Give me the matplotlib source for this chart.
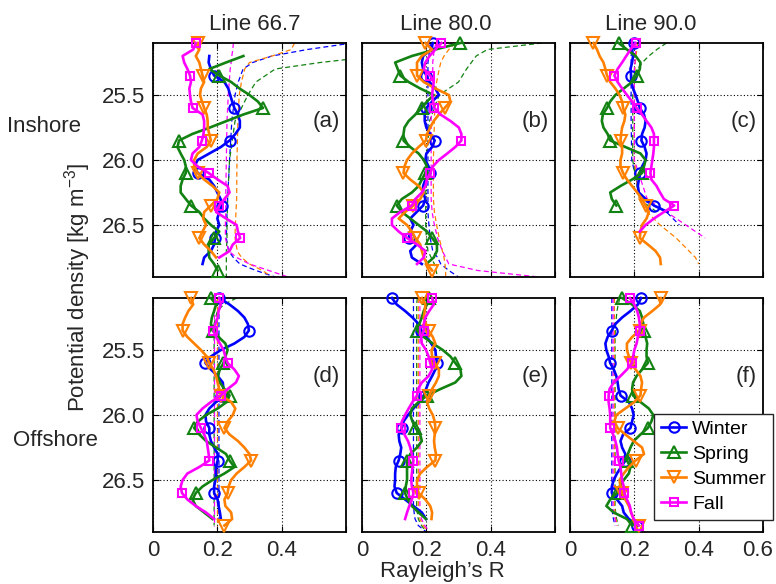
import numpy as np
import matplotlib
matplotlib.use("Agg")
import matplotlib.pyplot as plt
import matplotlib.transforms as mtransforms
from matplotlib.lines import Line2D

plt.rcParams["font.family"] = ["Liberation Sans", "DejaVu Sans"]
plt.rcParams["mathtext.default"] = "regular"

nan = np.nan

# potential density grid of the profiles (markers every 0.25)
density = np.round(np.arange(25.10, 26.86, 0.05), 2)
# density grid of the significance (dashed) curves
density_sig = [25.10, 25.15, 25.20, 25.25, 25.30, 25.40, 25.50, 25.70, 26.00,
               26.30, 26.40, 26.50, 26.60, 26.70, 26.75, 26.80, 26.85, 26.90]

seasons = ["Winter", "Spring", "Summer", "Fall"]
line_titles = ["Line 66.7", "Line 80.0", "Line 90.0"]
panel_tags = ["(a)", "(b)", "(c)", "(d)", "(e)", "(f)"]
region_names = ["Inshore", "Offshore"]

# ---- (a) Line 66.7 inshore
winter_a = [nan, nan, 0.175, 0.173, 0.18, 0.19, 0.222, 0.234, 0.24, 0.246, 0.253, 0.264, 0.27, 0.27, 0.256, 0.238,
            0.211, 0.175, 0.139, 0.128, 0.139, 0.175, 0.19, 0.2, 0.21, 0.214, 0.206, 0.2, 0.206, 0.196, 0.193, 0.19,
            0.18, 0.159, 0.154, nan]
spring_a = [nan, nan, 0.281, 0.227, 0.175, 0.206, 0.243, 0.269, 0.3, 0.326, 0.342, 0.281, 0.229, 0.177, 0.122, 0.081,
            0.076, 0.086, 0.097, 0.102, 0.102, 0.092, 0.086, 0.086, 0.102, 0.118, 0.144, 0.159, 0.18, 0.206, 0.19,
            0.173, 0.173, 0.175, 0.19, 0.201]
summer_a = [0.139, 0.144, 0.133, 0.144, 0.149, 0.154, 0.159, 0.149, 0.146, 0.152, 0.159, 0.167, 0.17, 0.17, 0.175,
            0.18, 0.167, 0.139, 0.128, 0.128, 0.139, 0.159, 0.185, 0.206, 0.2, 0.18, 0.159, 0.156, 0.165, 0.154, 0.144,
            0.159, 0.18, 0.196, nan, nan]
fall_a = [0.133, 0.125, 0.092, 0.097, 0.107, 0.115, 0.118, 0.113, 0.115, 0.118, 0.123, 0.154, 0.159, 0.159, 0.157,
          0.152, 0.144, 0.123, 0.118, 0.139, 0.173, 0.201, 0.232, 0.238, 0.222, 0.206, 0.196, 0.227, 0.26, 0.264, 0.271,
          0.248, 0.238, 0.206, nan, nan]

# ---- (b) Line 80.0 inshore
winter_b = [0.22, 0.216, 0.19, 0.186, 0.19, 0.2, 0.21, 0.228, 0.239, 0.218, 0.2, 0.195, 0.195, 0.2, 0.212, 0.226,
            0.218, 0.2, 0.197, 0.207, 0.212, 0.197, 0.19, 0.19, 0.197, 0.19, 0.17, 0.15, 0.16, 0.15, 0.145, 0.17, 0.15,
            0.155, 0.186, nan]
spring_b = [0.306, 0.228, 0.155, 0.103, 0.111, 0.119, 0.145, 0.181, 0.223, 0.202, 0.186, 0.166, 0.145, 0.132, 0.129,
            0.129, 0.15, 0.176, 0.192, 0.202, 0.197, 0.186, 0.176, 0.155, 0.124, 0.108, 0.124, 0.15, 0.176, 0.202,
            0.218, 0.233, 0.233, 0.223, 0.2, nan]
summer_b = [0.197, 0.218, 0.186, 0.171, 0.171, 0.171, 0.192, 0.228, 0.27, 0.275, 0.257, 0.239, 0.223, 0.212, 0.202,
            0.199, 0.176, 0.155, 0.14, 0.132, 0.129, 0.15, 0.176, 0.192, 0.181, 0.16, 0.134, 0.114, 0.14, 0.155, 0.166,
            0.181, 0.186, 0.192, 0.202, 0.218]
fall_b = [0.247, 0.228, 0.21, 0.197, 0.192, 0.212, 0.223, 0.22, 0.218, 0.221, 0.225, 0.244, 0.275, 0.301, 0.309, 0.309,
          0.29, 0.265, 0.239, 0.22, 0.212, 0.202, 0.197, 0.186, 0.166, 0.155, 0.119, 0.093, 0.093, 0.114, 0.14, 0.171,
          0.197, 0.192, 0.171, nan]

# ---- (c) Line 90.0 inshore
winter_c = [0.2, 0.193, 0.196, 0.193, 0.188, 0.19, 0.19, 0.196, 0.204, 0.211, 0.217, 0.23, 0.235, 0.232, 0.224, 0.222,
            0.232, 0.238, 0.235, 0.224, 0.219, 0.214, 0.211, 0.214, 0.235, 0.261, 0.303, nan, nan, nan, nan, nan, nan,
            nan, nan, nan]
spring_c = [0.151, 0.177, 0.204, 0.219, 0.217, 0.209, 0.193, 0.167, 0.141, 0.125, 0.115, 0.102, 0.099, 0.104, 0.117,
            0.125, 0.172, 0.219, 0.235, 0.23, 0.224, 0.193, 0.157, 0.125, 0.13, 0.144, nan, nan, nan, nan, nan, nan,
            nan, nan, nan, nan]
summer_c = [0.073, 0.084, 0.092, 0.104, 0.11, 0.115, 0.125, 0.141, 0.154, 0.162, 0.165, 0.172, 0.169, 0.162, 0.159,
            0.157, 0.162, 0.162, 0.157, 0.157, 0.165, 0.177, 0.193, 0.209, 0.224, 0.235, 0.245, 0.238, 0.224, 0.219,
            0.217, 0.242, 0.266, 0.28, 0.282, nan]
fall_c = [0.204, 0.188, 0.175, 0.162, 0.148, 0.138, 0.148, 0.162, 0.177, 0.193, 0.207, 0.224, 0.238, 0.253, 0.261,
          0.261, 0.261, 0.259, 0.256, 0.253, 0.25, 0.253, 0.269, 0.28, 0.292, 0.324, 0.292, 0.261, 0.235, 0.217, nan,
          nan, nan, nan, nan, nan]

# ---- (d) Line 66.7 offshore
winter_d = [0.206, 0.238, 0.264, 0.284, 0.295, 0.298, 0.284, 0.253, 0.211, 0.18, 0.163, 0.18, 0.201, 0.217, 0.219,
            0.211, 0.196, 0.175, 0.163, 0.165, 0.175, 0.175, 0.18, 0.19, 0.201, 0.201, 0.196, 0.196, 0.194, 0.19, 0.19,
            0.201, 0.204, 0.208, 0.211, nan]
spring_d = [0.18, 0.196, 0.19, 0.183, 0.18, 0.185, 0.204, 0.225, 0.232, 0.225, 0.219, 0.208, 0.201, 0.208, 0.222,
            0.238, 0.229, 0.201, 0.165, 0.139, 0.128, 0.144, 0.165, 0.196, 0.227, 0.238, 0.253, 0.222, 0.185, 0.154,
            0.133, 0.123, 0.133, 0.159, 0.185, nan]
summer_d = [0.118, 0.125, 0.11, 0.1, 0.092, 0.092, 0.107, 0.128, 0.149, 0.167, 0.175, 0.188, 0.196, 0.201, 0.206,
            0.211, 0.243, 0.256, 0.248, 0.232, 0.222, 0.238, 0.264, 0.284, 0.3, 0.305, 0.284, 0.26, 0.243, 0.235, 0.232,
            0.222, 0.225, 0.243, 0.246, 0.222]
fall_d = [0.206, 0.211, 0.204, 0.201, 0.194, 0.188, 0.196, 0.208, 0.219, 0.225, 0.232, 0.253, 0.267, 0.258, 0.232,
          0.211, 0.18, 0.154, 0.135, 0.139, 0.149, 0.159, 0.167, 0.17, 0.173, 0.175, 0.144, 0.107, 0.092, 0.086, 0.09,
          0.107, 0.133, 0.165, 0.19, nan]

# ---- (e) Line 80.0 offshore
winter_e = [0.093, 0.108, 0.134, 0.157, 0.176, 0.184, 0.202, 0.215, 0.228, 0.23, 0.233, 0.228, 0.218, 0.207, 0.199,
            0.192, 0.178, 0.16, 0.143, 0.129, 0.124, 0.114, 0.116, 0.122, 0.119, 0.114, 0.105, 0.103, 0.103, 0.101,
            0.108, 0.134, 0.16, 0.186, 0.199, nan]
spring_e = [0.207, 0.202, 0.192, 0.186, 0.178, 0.171, 0.192, 0.22, 0.251, 0.275, 0.29, 0.306, 0.309, 0.29, 0.244,
            0.202, 0.176, 0.155, 0.15, 0.157, 0.166, 0.181, 0.186, 0.171, 0.15, 0.14, 0.14, 0.14, 0.14, 0.136, 0.134,
            0.142, 0.155, 0.176, 0.199, nan]
summer_e = [0.186, 0.197, 0.195, 0.192, 0.199, 0.207, 0.22, 0.228, 0.216, 0.218, 0.226, 0.239, 0.239, 0.23, 0.218,
            0.209, 0.202, 0.209, 0.22, 0.226, 0.228, 0.226, 0.224, 0.226, 0.23, 0.228, 0.202, 0.181, 0.171, 0.171,
            0.176, 0.197, 0.212, 0.218, 0.216, nan]
fall_e = [0.218, 0.223, 0.209, 0.197, 0.192, 0.192, 0.184, 0.186, 0.199, 0.207, 0.212, 0.218, 0.207, 0.186, 0.174,
          0.171, 0.157, 0.145, 0.134, 0.124, 0.122, 0.132, 0.143, 0.15, 0.155, 0.16, 0.157, 0.155, 0.153, 0.155, 0.16,
          0.155, 0.147, 0.14, 0.134, nan]

# ---- (f) Line 90.0 offshore
winter_f = [0.221, 0.211, 0.188, 0.162, 0.141, 0.13, 0.117, 0.11, 0.113, 0.12, 0.125, 0.136, 0.144, 0.148, 0.151,
            0.157, 0.183, 0.193, 0.198, 0.193, 0.188, 0.165, 0.157, 0.162, 0.172, 0.172, 0.159, 0.146, 0.136, 0.13,
            0.13, 0.146, 0.162, 0.167, 0.183, 0.209]
spring_f = [0.162, 0.193, 0.217, 0.224, 0.228, 0.23, 0.235, 0.24, 0.238, 0.238, 0.242, 0.224, 0.207, 0.196, 0.193,
            0.196, 0.219, 0.245, 0.259, 0.253, 0.242, 0.219, 0.198, 0.188, 0.18, 0.177, 0.188, 0.183, 0.167, 0.154,
            0.146, 0.125, 0.113, 0.136, 0.177, 0.193]
summer_f = [0.282, 0.28, 0.256, 0.23, 0.219, 0.217, 0.193, 0.177, 0.177, 0.183, 0.19, 0.204, 0.219, 0.224, 0.221,
            0.219, 0.2, 0.172, 0.144, 0.138, 0.148, 0.172, 0.198, 0.224, 0.23, 0.204, 0.183, 0.167, 0.154, 0.157, 0.162,
            0.172, 0.183, 0.19, 0.198, 0.214]
fall_f = [0.186, 0.2, 0.209, 0.214, 0.217, 0.217, 0.211, 0.207, 0.2, 0.196, 0.193, 0.177, 0.157, 0.136, 0.123, 0.12,
          0.12, 0.123, 0.125, 0.125, 0.125, 0.134, 0.141, 0.146, 0.148, 0.151, 0.157, 0.159, 0.162, 0.167, 0.169,
          0.177, 0.186, 0.19, 0.198, 0.214]

# ---- significance levels (dashed), on density_sig
sig_winter_a = [0.62, 0.48, 0.37, 0.31, 0.28, 0.265, 0.255, 0.245, 0.238, 0.232, 0.23, 0.229, 0.228, 0.235, 0.25, 0.27, 0.32, 0.38]
sig_spring_a = [0.9, 0.8, 0.7, 0.52, 0.38, 0.32, 0.295, 0.255, 0.238, 0.232, 0.231, 0.23, 0.23, 0.228, 0.228, 0.228, 0.228, 0.228]
sig_summer_a = [0.44, 0.43, 0.37, 0.30, 0.285, 0.275, 0.268, 0.264, 0.261, 0.26, 0.258, 0.256, 0.255, 0.262, 0.275, 0.3, 0.34, 0.37]
sig_fall_a = [0.25, 0.248, 0.245, 0.243, 0.24, 0.237, 0.234, 0.23, 0.228, 0.226, 0.226, 0.225, 0.225, 0.235, 0.26, 0.3, 0.36, 0.42]

sig_winter_b = [0.215, 0.21, 0.208, 0.205, 0.205, 0.205, 0.205, 0.205, 0.205, 0.205, 0.205, 0.208, 0.212, 0.22, 0.235, 0.245, 0.27, 0.3]
sig_spring_b = [0.56, 0.39, 0.355, 0.34, 0.325, 0.3, 0.24, 0.21, 0.2, 0.198, 0.198, 0.198, 0.2, 0.205, 0.215, 0.225, 0.23, 0.235]
sig_summer_b = [0.29, 0.27, 0.255, 0.245, 0.24, 0.232, 0.228, 0.225, 0.222, 0.222, 0.225, 0.232, 0.24, 0.25, 0.255, 0.258, 0.26, 0.26]
sig_fall_b = [0.23, 0.225, 0.222, 0.22, 0.22, 0.218, 0.218, 0.215, 0.215, 0.215, 0.218, 0.225, 0.235, 0.25, 0.26, 0.27, 0.36, 0.55]

sig_winter_c = [0.195, 0.193, 0.19, 0.19, 0.19, 0.19, 0.19, 0.19, 0.192, 0.22, 0.30, 0.34, nan, nan, nan, nan, nan, nan]
sig_spring_c = [0.30, 0.27, 0.245, 0.225, 0.21, 0.2, 0.195, 0.195, 0.195, 0.215, 0.27, nan, nan, nan, nan, nan, nan, nan]
sig_summer_c = [0.21, 0.208, 0.205, 0.203, 0.202, 0.2, 0.2, 0.2, 0.2, 0.215, 0.24, 0.28, 0.33, 0.37, 0.39, 0.40, nan, nan]
sig_fall_c = [0.205, 0.204, 0.203, 0.202, 0.2, 0.2, 0.2, 0.2, 0.2, 0.24, 0.30, 0.36, 0.42, nan, nan, nan, nan, nan]

sig_winter_d = [0.21, 0.207, 0.205, 0.205, 0.205, 0.205, 0.205, 0.205, 0.205, 0.205, 0.205, 0.205, 0.205, 0.205, 0.205, 0.205, 0.207, nan]
sig_spring_d = [0.26, 0.22, 0.2, 0.195, 0.19, 0.19, 0.19, 0.19, 0.19, 0.19, 0.19, 0.19, 0.19, 0.19, 0.19, 0.19, 0.19, nan]
sig_summer_d = [0.2, 0.2, 0.2, 0.2, 0.2, 0.2, 0.2, 0.2, 0.2, 0.2, 0.2, 0.2, 0.2, 0.2, 0.2, 0.2, 0.2, nan]
sig_fall_d = [0.19, 0.19, 0.19, 0.19, 0.19, 0.19, 0.19, 0.19, 0.19, 0.19, 0.19, 0.19, 0.19, 0.19, 0.19, 0.19, 0.19, nan]

sig_winter_e = [0.16, 0.16, 0.16, 0.16, 0.16, 0.16, 0.16, 0.16, 0.16, 0.16, 0.16, 0.16, 0.16, 0.16, 0.162, 0.165, 0.175, 0.2]
sig_spring_e = [0.172, 0.17, 0.17, 0.17, 0.17, 0.17, 0.17, 0.17, 0.17, 0.17, 0.17, 0.17, 0.17, 0.17, 0.172, 0.175, 0.185, 0.2]
sig_summer_e = [0.175, 0.175, 0.175, 0.175, 0.175, 0.175, 0.175, 0.175, 0.175, 0.175, 0.175, 0.175, 0.175, 0.175, 0.177, 0.18, 0.19, 0.205]
sig_fall_e = [0.18, 0.18, 0.18, 0.18, 0.18, 0.18, 0.18, 0.18, 0.18, 0.18, 0.18, 0.18, 0.18, 0.18, 0.182, 0.185, 0.195, 0.21]

sig_winter_f = [0.13, 0.13, 0.13, 0.13, 0.13, 0.13, 0.13, 0.13, 0.13, 0.13, 0.13, 0.13, 0.13, 0.13, 0.132, 0.135, 0.14, nan]
sig_spring_f = [0.155, 0.15, 0.146, 0.144, 0.142, 0.14, 0.14, 0.14, 0.14, 0.14, 0.14, 0.14, 0.14, 0.14, 0.142, 0.145, 0.15, nan]
sig_summer_f = [0.138, 0.138, 0.138, 0.138, 0.138, 0.138, 0.138, 0.138, 0.138, 0.138, 0.138, 0.138, 0.138, 0.138, 0.14, 0.142, 0.148, nan]
sig_fall_f = [0.134, 0.134, 0.134, 0.134, 0.134, 0.134, 0.134, 0.134, 0.134, 0.134, 0.134, 0.134, 0.134, 0.134, 0.136, 0.14, 0.145, nan]

profiles = [
    [winter_a, spring_a, summer_a, fall_a],
    [winter_b, spring_b, summer_b, fall_b],
    [winter_c, spring_c, summer_c, fall_c],
    [winter_d, spring_d, summer_d, fall_d],
    [winter_e, spring_e, summer_e, fall_e],
    [winter_f, spring_f, summer_f, fall_f],
]
significance = [
    [sig_winter_a, sig_spring_a, sig_summer_a, sig_fall_a],
    [sig_winter_b, sig_spring_b, sig_summer_b, sig_fall_b],
    [sig_winter_c, sig_spring_c, sig_summer_c, sig_fall_c],
    [sig_winter_d, sig_spring_d, sig_summer_d, sig_fall_d],
    [sig_winter_e, sig_spring_e, sig_summer_e, sig_fall_e],
    [sig_winter_f, sig_spring_f, sig_summer_f, sig_fall_f],
]

colors = ["#0000ff", "#128212", "#ff8000", "#ff00ff"]
markers = ["o", "^", "v", "s"]
marker_sizes = [7.5, 9, 9, 5.5]
text_color = "#262626"

W, H = 776, 584
fig = plt.figure(figsize=(W / 100, H / 100), dpi=100)

col_left = [153, 362, 570]
row_top = [43, 298]
ax_w, ax_h = 193, 234

axes = []
for i in range(6):
    r, c = divmod(i, 3)
    ax = fig.add_axes([col_left[c] / W, 1 - (row_top[r] + ax_h) / H, ax_w / W, ax_h / H])
    axes.append(ax)

    for s in range(4):
        ax.plot(significance[i][s], density_sig, color=colors[s], lw=0.9, dashes=(4, 2.5), zorder=2)
    for s in range(4):
        ax.plot(profiles[i][s], density, color=colors[s], lw=1.9, marker=markers[s],
                markersize=marker_sizes[s], mfc="none", mew=1.5, markevery=5,
                clip_on=False, zorder=3, label=seasons[s])

    ax.set_xlim(0, 0.6)
    ax.set_ylim(26.9, 25.1)
    ax.set_xticks([0, 0.2, 0.4, 0.6])
    ax.set_yticks([25.5, 26.0, 26.5])
    ax.grid(True, color="k", linestyle=(0, (1, 2)), linewidth=0.8, zorder=1)
    ax.set_axisbelow(True)
    ax.tick_params(direction="in", length=4, width=0.8, top=True, right=True,
                   labelsize=16, labelcolor=text_color, pad=6)
    for sp in ax.spines.values():
        sp.set_linewidth(1.3)
        sp.set_color("k")

    if r == 1:
        if c == 2:
            ax.set_xticklabels(["0", "0.2", "0.4", "0.6"])
        else:
            ax.set_xticklabels(["0", "0.2", "0.4", ""])
    else:
        ax.set_xticklabels([])
    if c == 0:
        ax.set_yticklabels(["25.5", "26.0", "26.5"])
    else:
        ax.set_yticklabels([])

    ax.text(0.97, 0.665, panel_tags[i], transform=ax.transAxes, ha="right", va="center",
            fontsize=16, color=text_color)

# last "0.6" sits at the figure edge; nudge it slightly inward
last_label = axes[5].get_xticklabels()[-1]
last_label.set_transform(last_label.get_transform()
                         + mtransforms.ScaledTranslation(-5 / 100, 0, fig.dpi_scale_trans))

title_x = [255, 446, 651]
for c in range(3):
    fig.text(title_x[c] / W, 1 - 24 / H, line_titles[c], ha="center", va="center",
             fontsize=16, color=text_color)

fig.text(44 / W, 1 - 127 / H, region_names[0], ha="center", va="center", fontsize=16, color=text_color)
fig.text(55 / W, 1 - 441 / H, region_names[1], ha="center", va="center", fontsize=16, color=text_color)
fig.text(78 / W, 1 - 287 / H, "Potential density [kg m$^{-3}$]", rotation=90,
         ha="center", va="center", fontsize=16, color=text_color)
fig.text(442 / W, 1 - 577 / H, "Rayleigh\u2019s R", ha="center", va="baseline",
         fontsize=16, color=text_color)

handles = [Line2D([], [], color=colors[s], lw=1.9, marker=markers[s], markersize=marker_sizes[s],
                  mfc="none", mew=1.5) for s in range(4)]
leg = axes[5].legend(handles, seasons, loc="lower right", bbox_to_anchor=(773 / W, 1 - 520 / H),
                     bbox_transform=fig.transFigure, fontsize=14, frameon=True, fancybox=False,
                     framealpha=1, edgecolor=text_color, borderpad=0.35, labelspacing=0.38,
                     handlelength=1.3, handletextpad=0.3, borderaxespad=0, numpoints=1)
leg.get_frame().set_linewidth(1.0)
leg.set_zorder(10)

fig.savefig("out.png", dpi=100)
